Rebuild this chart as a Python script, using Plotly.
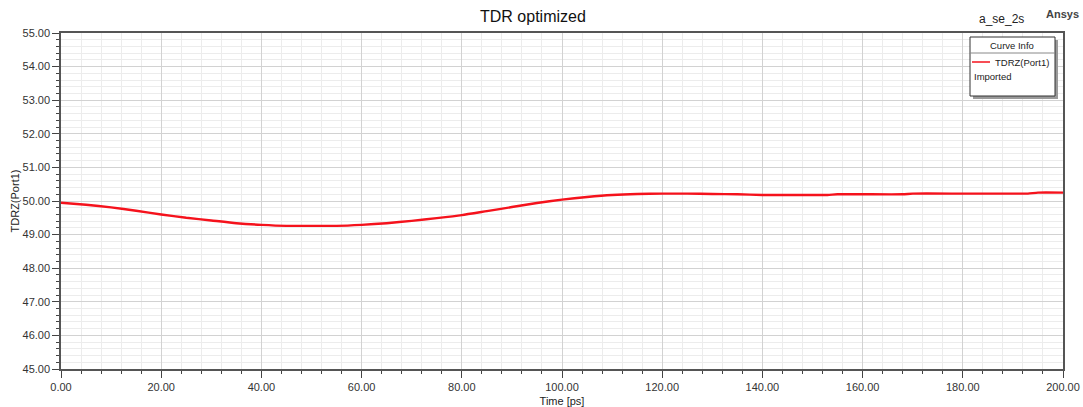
import plotly.graph_objects as go

time_ps = [0, 5, 10, 15, 20, 25, 30, 35, 40, 45, 50, 55, 60, 65, 70, 75, 80, 85, 90, 95,
           100, 105, 110, 115, 120, 125, 130, 135, 140, 145, 150, 153, 155, 160, 168, 170,
           180, 190, 193, 195, 200]
tdrz = [49.95, 49.89, 49.81, 49.71, 49.60, 49.50, 49.42, 49.34, 49.29, 49.26, 49.26, 49.26,
        49.29, 49.34, 49.41, 49.49, 49.58, 49.70, 49.82, 49.94, 50.04, 50.12, 50.18, 50.21,
        50.22, 50.22, 50.21, 50.20, 50.18, 50.18, 50.18, 50.18, 50.20, 50.20, 50.20, 50.22,
        50.22, 50.22, 50.22, 50.25, 50.25]

FONT = "Arial, Liberation Sans, sans-serif"
RED = "#f5121c"

fig = go.Figure()
fig.add_trace(go.Scatter(x=time_ps, y=tdrz, mode="lines", name="TDRZ(Port1)",
                         line=dict(color=RED, width=2.4, shape="spline", smoothing=0.5),
                         showlegend=False))

axis_common = dict(
    showline=True, linecolor="#555555", linewidth=1.5, mirror=True,
    ticks="outside", ticklen=7, tickcolor="#444444", tickwidth=1,
    gridcolor="#d2d2d2", gridwidth=1, zeroline=False, automargin=False,
    tickfont=dict(family=FONT, size=11, color="#333333"),
    tickformat=".2f",
)

fig.update_xaxes(range=[0, 200], dtick=20, tick0=0,
                 minor=dict(dtick=4, showgrid=True, gridcolor="#ececec", ticks="outside",
                            ticklen=3, tickcolor="#444444"),
                 title=dict(text="Time [ps]", font=dict(family=FONT, size=11, color="#222"), standoff=6),
                 **axis_common)
fig.update_yaxes(range=[45, 55], dtick=1, tick0=45,
                 minor=dict(dtick=0.2, showgrid=True, gridcolor="#ececec", ticks="outside",
                            ticklen=3, tickcolor="#444444"),
                 title=dict(text="TDRZ(Port1)", font=dict(family=FONT, size=11, color="#222"), standoff=1),
                 **axis_common)

W, H = 1083, 407
L, R, T, B = 61, 20, 33, 38
pw, ph = W - L - R, H - T - B

def px(x):
    return (x - L) / pw

def py(y):
    return 1 - (y - T) / ph

shapes = []
# legend box shadow
shapes.append(dict(type="rect", xref="paper", yref="paper", x0=px(973), x1=px(1058),
                   y0=py(99), y1=py(40), fillcolor="#9a9a9a", line=dict(width=0), layer="above"))
shapes.append(dict(type="rect", xref="paper", yref="paper", x0=px(970), x1=px(1055),
                   y0=py(96), y1=py(37), fillcolor="white", line=dict(color="#333333", width=1), layer="above"))
shapes.append(dict(type="line", xref="paper", yref="paper", x0=px(970), x1=px(1055),
                   y0=py(53), y1=py(53), line=dict(color="#888888", width=1), layer="above"))
shapes.append(dict(type="line", xref="paper", yref="paper", x0=px(972), x1=px(990),
                   y0=py(62), y1=py(62), line=dict(color=RED, width=1.5), layer="above"))

annotations = [
    dict(text="Curve Info", xref="paper", yref="paper", x=px(1012), y=py(46), showarrow=False,
         xanchor="center", yanchor="middle", font=dict(family=FONT, size=9.5, color="#222")),
    dict(text="TDRZ(Port1)", xref="paper", yref="paper", x=px(1051), y=py(62), showarrow=False,
         xanchor="right", yanchor="middle", font=dict(family=FONT, size=9.5, color="#222")),
    dict(text="Imported", xref="paper", yref="paper", x=px(972), y=py(76), showarrow=False,
         xanchor="left", yanchor="middle", font=dict(family=FONT, size=9.5, color="#222")),
    dict(text="TDR optimized", xref="paper", yref="paper", x=px(533), y=py(17), showarrow=False,
         xanchor="center", yanchor="middle", font=dict(family=FONT, size=16, color="#111")),
    dict(text="a_se_2s", xref="paper", yref="paper", x=px(1026), y=py(19), showarrow=False,
         xanchor="right", yanchor="middle", font=dict(family=FONT, size=12, color="#222")),
    dict(text="<b>Ansys</b>", xref="paper", yref="paper", x=px(1081), y=py(14), showarrow=False,
         xanchor="right", yanchor="middle", font=dict(family=FONT, size=11, color="#444")),
]

fig.update_layout(width=W, height=H, margin=dict(l=L, r=R, t=T, b=B, pad=0, autoexpand=False),
                  paper_bgcolor="white", plot_bgcolor="white",
                  shapes=shapes, annotations=annotations, showlegend=False)

fig.write_html("out.html")
